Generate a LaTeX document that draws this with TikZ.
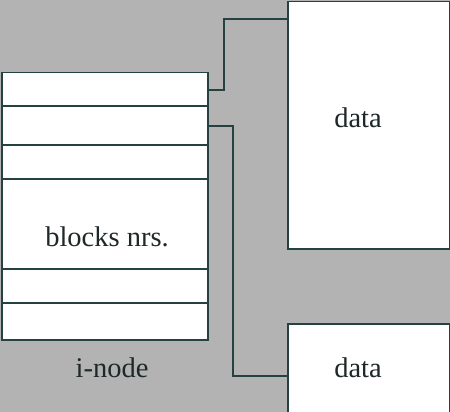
\documentclass[tikz,border=0pt]{standalone}
\usepackage{fontspec}
\setmainfont{Liberation Serif}
\definecolor{bg}{RGB}{179,179,179}
\definecolor{ln}{RGB}{38,66,64}
\definecolor{tx}{RGB}{30,40,40}
\begin{document}
\begin{tikzpicture}[x=1pt,y=-1pt,
  box/.style={draw=ln, fill=white, line width=1.5pt, inner sep=0pt, anchor=north west},
  conn/.style={draw=ln, line width=1.5pt},
  row/.style={draw=ln, line width=1.5pt},
  lbl/.style={text=tx, font=\fontsize{28.5}{32}\selectfont, inner sep=0pt}]
\useasboundingbox (0,0) rectangle (450,412);
\fill[bg] (0,0) rectangle (450,412);
\clip (0,0) rectangle (450,412);
% i-node
\node[box, minimum width=206pt, minimum height=267pt] (inode) at (1,72) {};
\foreach \yy in {106,145,179,269,303} \draw[row] (1,\yy) -- (207,\yy);
\node[lbl] (blocks) at (107,237) {blocks nrs.};
\node[lbl] (ilabel) at (112,368) {i-node};
% data blocks
\node[box, minimum width=162pt, minimum height=247pt] (data1) at (287,1) {};
\node[lbl] (d1) at (358,118) {data};
\node[box, minimum width=162pt, minimum height=120pt] (data2) at (287,323) {};
\node[lbl] (d2) at (358,368) {data};
% connectors
\coordinate (a1) at (207,90);
\coordinate (b1) at (287,19);
\coordinate (a2) at (207,126);
\coordinate (b2) at (287,376);
\draw[conn] (a1) -- (224,90) |- (b1);
\draw[conn] (a2) -- (233,126) |- (b2);
\end{tikzpicture}
\end{document}
